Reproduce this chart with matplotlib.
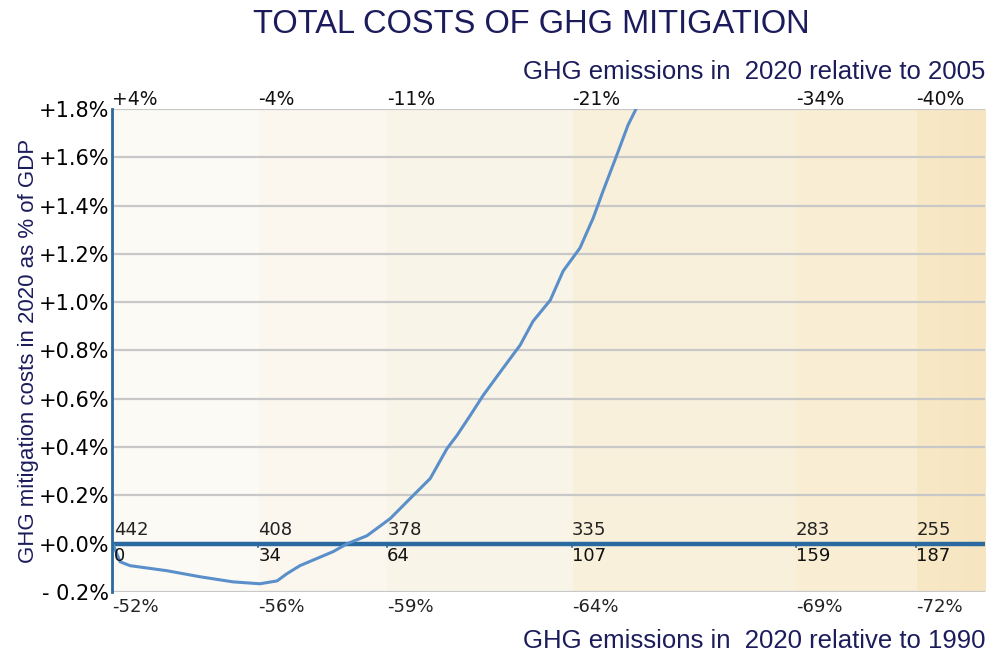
import numpy as np
import matplotlib
matplotlib.use("Agg")
import matplotlib.pyplot as plt
from matplotlib.colors import to_rgb

# reduction points (x axis, Mt below baseline) and their labels
x_marks = [0, 34, 64, 107, 159, 187]
emissions_2020 = ["442", "408", "378", "335", "283", "255"]
rel_2005 = ["+4%", "-4%", "-11%", "-21%", "-34%", "-40%"]
rel_1990 = ["-52%", "-56%", "-59%", "-64%", "-69%", "-72%"]

# cost curve (x, % of GDP)
curve_x = [0, 1.9, 4.2, 12.8, 20.5, 28.1, 34.4, 38.4, 40.7, 43.7, 51.4, 54.7, 59.3,
           64.7, 70.0, 74.0, 77.9, 80.2, 83.3, 86.3, 90.9, 94.9, 97.9, 101.9, 104.9,
           108.8, 111.9, 114.2, 117.4, 120.0, 122.1, 123.5]
curve_y = [0.008, -0.075, -0.091, -0.112, -0.137, -0.158, -0.166, -0.154, -0.124, -0.091,
           -0.033, 0.0, 0.033, 0.104, 0.199, 0.270, 0.394, 0.448, 0.531, 0.614, 0.726,
           0.822, 0.921, 1.008, 1.129, 1.224, 1.349, 1.461, 1.610, 1.734, 1.809, 1.87]

y_ticks = [-0.2, 0.0, 0.2, 0.4, 0.6, 0.8, 1.0, 1.2, 1.4, 1.6, 1.8]
y_labels = ["- 0.2%", "+0.0%", "+0.2%", "+0.4%", "+0.6%", "+0.8%",
            "+1.0%", "+1.2%", "+1.4%", "+1.6%", "+1.8%"]

band_colors = ["#fcfaf5", "#fbf7ef", "#f9f4e8", "#f9f0dc", "#f9edd3", "#f8e8c6"]
x_max = 203

blue = "#2a6aa0"
navy = "#1c1c5c"

fig = plt.figure(figsize=(9.9, 6.55), dpi=100)
ax = fig.add_axes([0.1131, 0.0962, 0.8819, 0.7374])
ax.set_xlim(0, x_max)
ax.set_ylim(-0.2, 1.8)

# background bands, the last one fading a little darker to the right
n = 1000
xs = np.linspace(0, x_max, n)
idx = np.searchsorted(x_marks, xs, side="right") - 1
img = np.array([to_rgb(band_colors[i]) for i in idx])
last = idx == len(x_marks) - 1
frac = (xs[last] - x_marks[-1]) / (x_max - x_marks[-1])
img[last] = img[last] * (1 - frac[:, None] * np.array([0.005, 0.012, 0.03]))
ax.imshow(img[None, :, :], extent=(0, x_max, -0.2, 1.8), aspect="auto", zorder=0,
          interpolation="nearest")

for t in y_ticks:
    if t != 0:
        ax.axhline(t, color="#c8c8c8", lw=1.6, zorder=1)
ax.axhline(0, color=blue, lw=3.2, zorder=3)

ax.plot(curve_x, curve_y, color="#5a8fca", lw=2.2, zorder=4, clip_on=True)

# small ticks under the zero line
for xm in x_marks[1:]:
    ax.plot([xm, xm], [0, -0.012], color=blue, lw=1.2, zorder=3)

for s in ["top", "right", "bottom"]:
    ax.spines[s].set_visible(False)
ax.spines["left"].set_color(blue)
ax.spines["left"].set_linewidth(2)
ax.spines["left"].set_zorder(5)

ax.set_xticks([])
ax.set_yticks(y_ticks)
ax.set_yticklabels(y_labels, fontsize=15)
ax.tick_params(axis="y", length=0, pad=2)

tf = ax.get_xaxis_transform()
for i, xm in enumerate(x_marks):
    xo = xm + (0.5 if i == 0 else 0)
    ax.text(xo, 0.018, emissions_2020[i], fontsize=13, ha="left", va="bottom",
            color="#222222", zorder=6)
    ax.text(xo, -0.012, str(xm), fontsize=13, ha="left", va="top",
            color="#111111", zorder=6)
    ax.text(xm, 1.0, rel_2005[i], fontsize=13.5, ha="left", va="bottom",
            transform=tf, color="#111111")
    ax.text(xm, -0.012, rel_1990[i], fontsize=13, ha="left", va="top",
            transform=tf, color="#222222")

ax.set_ylabel("GHG mitigation costs in 2020 as % of GDP", fontsize=16,
              family="Liberation Sans", color=navy, labelpad=0)

fig.text(0.537, 0.962, "TOTAL COSTS OF GHG MITIGATION", fontsize=23.5,
         family="Liberation Sans", color=navy, ha="center", va="center")
fig.text(0.995, 0.89, "GHG emissions in  2020 relative to 2005", fontsize=18.5,
         family="Liberation Sans", color=navy, ha="right", va="center")
fig.text(0.995, 0.021, "GHG emissions in  2020 relative to 1990", fontsize=18.5,
         family="Liberation Sans", color=navy, ha="right", va="center")

fig.savefig("out.png", dpi=100)
